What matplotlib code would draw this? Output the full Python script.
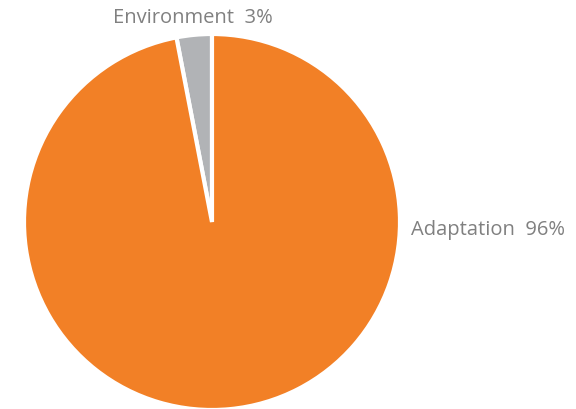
import matplotlib.pyplot as plt

# data
labels = ['Environment', 'Adaptation']
values = [3, 96]
colors = ['#b1b3b6', '#f28026']

W, H = 576, 409
fig = plt.figure(figsize=(W / 100, H / 100), dpi=100)

# pie centre ~ (212, 222) px, radius ~188 px
cx, cy, r = 212, 222, 188
ax = fig.add_axes([(cx - r) / W, (H - cy - r) / H, 2 * r / W, 2 * r / H])
ax.pie(values, colors=colors, startangle=90, counterclock=True,
       wedgeprops=dict(edgecolor='white', linewidth=3))
ax.set_xlim(-1, 1)
ax.set_ylim(-1, 1)
ax.set_aspect('equal')
ax.axis('off')

txt = dict(color='#808080', fontsize=14.5, family='Open Sans')
fig.text(193 / W, 1 - 18 / H, f'{labels[0]}  {values[0]}%', ha='center', va='center', **txt)
fig.text(411 / W, 1 - 230 / H, f'{labels[1]}  {values[1]}%', ha='left', va='center', **txt)

plt.savefig('out.png', dpi=100)
